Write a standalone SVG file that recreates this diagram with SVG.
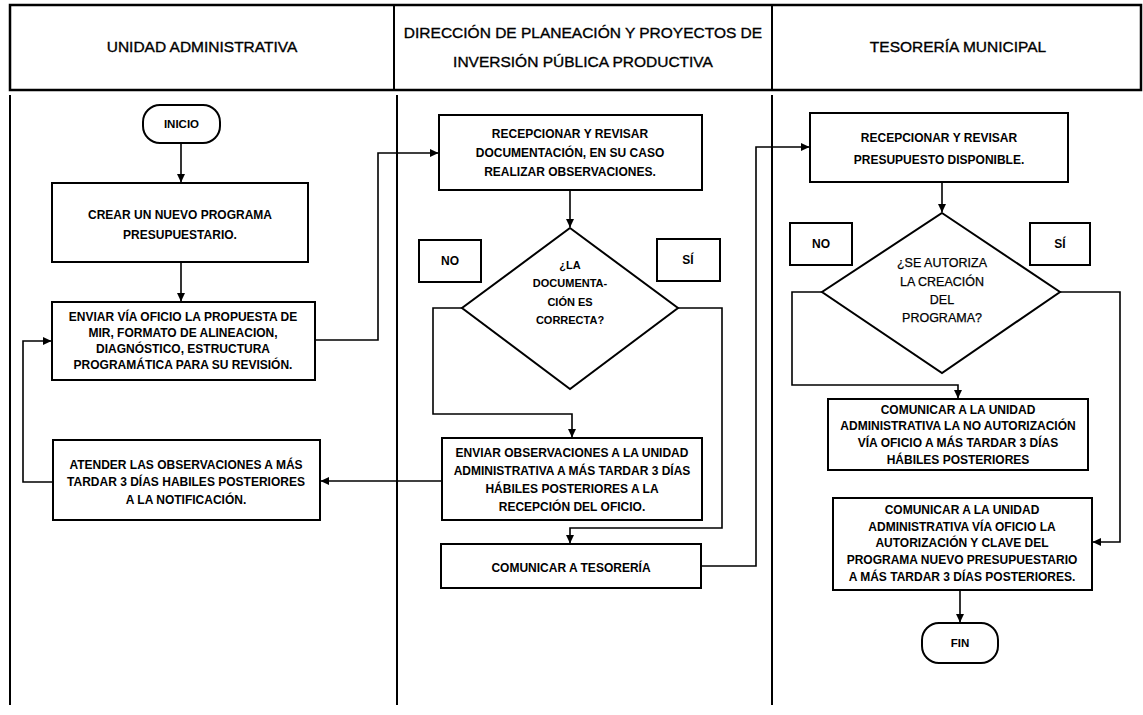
<svg xmlns="http://www.w3.org/2000/svg" width="1143" height="715" viewBox="0 0 1143 715">
<defs>
<marker id="arr" markerWidth="9" markerHeight="9" refX="8" refY="4.5" orient="auto" markerUnits="userSpaceOnUse">
<path d="M0,0.5 L8.5,4.5 L0,8.5 z" fill="#000"/>
</marker>
<style>
.frame{fill:none;stroke:#000;stroke-width:2}
.hdr{font-family:"Liberation Sans",Arial,sans-serif;font-size:15.5px;fill:#000;stroke:#000;stroke-width:0.35;text-anchor:middle}
.box{fill:#fff;stroke:#000;stroke-width:2}
.t{font-family:"Liberation Sans",Arial,sans-serif;font-size:12px;font-weight:bold;fill:#000;text-anchor:middle}
.td{font-family:"Liberation Sans",Arial,sans-serif;font-size:11px;font-weight:bold;fill:#000;text-anchor:middle}
.td2{font-family:"Liberation Sans",Arial,sans-serif;font-size:12.5px;fill:#000;stroke:#000;stroke-width:0.25;text-anchor:middle}
.c{fill:none;stroke:#000;stroke-width:1.6;marker-end:url(#arr)}
</style>
</defs>
<rect width="1143" height="715" fill="#fff"/>
<g id="lanes">
<rect class="frame" x="10" y="5" width="1131" height="85" style="stroke-width:2.5"/>
<line class="frame" x1="394" y1="5" x2="394" y2="90"/>
<line class="frame" x1="772" y1="5" x2="772" y2="90"/>
<line class="frame" x1="10" y1="95" x2="10" y2="705"/>
<line class="frame" x1="397" y1="95" x2="397" y2="705"/>
<line class="frame" x1="772" y1="95" x2="772" y2="705"/>
<text class="hdr" x="202" y="52">UNIDAD ADMINISTRATIVA</text>
<text class="hdr" x="583" y="38">DIRECCIÓN DE PLANEACIÓN Y PROYECTOS DE</text>
<text class="hdr" x="583" y="67">INVERSIÓN PÚBLICA PRODUCTIVA</text>
<text class="hdr" x="958" y="52">TESORERÍA MUNICIPAL</text>
</g>
<g id="connectors">
<path class="c" d="M181,143 V182"/>
<path class="c" d="M181,262 V301"/>
<path class="c" d="M315,340 H378 V153 H438"/>
<path class="c" d="M570,190 V227"/>
<path class="c" d="M462,308 H433 V414 H572 V437"/>
<path class="c" d="M678,308 H722 V528 H570 V543"/>
<path class="c" d="M442,481 H321"/>
<path class="c" d="M53,482 H23 V341 H51"/>
<path class="c" d="M701,566 H756 V147 H809"/>
<path class="c" d="M942,182 V212"/>
<path class="c" d="M822,292 H792 V385 H958 V398"/>
<path class="c" d="M1060,292 H1120 V542 H1093"/>
<path class="c" d="M960,590 V622"/>
</g>
<g id="inicio">
<rect class="box" x="143" y="105" width="77" height="38" rx="17"/>
<text class="t" x="181.5" y="128" style="font-size:11.5px">INICIO</text>
</g>
<g id="crear">
<rect class="box" x="52" y="183" width="256" height="79"/>
<text class="t" x="180" y="219">CREAR UN NUEVO PROGRAMA</text>
<text class="t" x="180" y="239">PRESUPUESTARIO.</text>
</g>
<g id="enviar">
<rect class="box" x="52" y="302" width="263" height="78"/>
<text class="t" x="183" y="321">ENVIAR VÍA OFICIO LA PROPUESTA DE</text>
<text class="t" x="183" y="337">MIR, FORMATO DE ALINEACION,</text>
<text class="t" x="183" y="353">DIAGNÓSTICO, ESTRUCTURA</text>
<text class="t" x="183" y="369">PROGRAMÁTICA PARA SU REVISIÓN.</text>
</g>
<g id="atender">
<rect class="box" x="53" y="440" width="267" height="80"/>
<text class="t" x="186" y="469">ATENDER LAS OBSERVACIONES A MÁS</text>
<text class="t" x="186" y="486">TARDAR 3 DÍAS HABILES POSTERIORES</text>
<text class="t" x="186" y="504">A LA NOTIFICACIÓN.</text>
</g>
<g id="recepcionar-doc">
<rect class="box" x="439" y="115" width="263" height="75"/>
<text class="t" x="570" y="138">RECEPCIONAR Y REVISAR</text>
<text class="t" x="570" y="157">DOCUMENTACIÓN, EN SU CASO</text>
<text class="t" x="570" y="176">REALIZAR OBSERVACIONES.</text>
</g>
<g id="decision-doc">
<polygon class="box" points="570,228 678,308 570,389 462,308"/>
<text class="td" x="570" y="269">¿LA</text>
<text class="td" x="570" y="287">DOCUMENTA-</text>
<text class="td" x="570" y="306">CIÓN ES</text>
<text class="td" x="570" y="324">CORRECTA?</text>
</g>
<g id="no-doc">
<rect class="box" x="419" y="240" width="62" height="42"/>
<text class="t" x="450" y="265">NO</text>
</g>
<g id="si-doc">
<rect class="box" x="657" y="239" width="63" height="42"/>
<text class="t" x="688" y="264">SÍ</text>
</g>
<g id="enviar-obs">
<rect class="box" x="442" y="438" width="260" height="82"/>
<text class="t" x="572" y="457">ENVIAR OBSERVACIONES A LA UNIDAD</text>
<text class="t" x="572" y="475">ADMINISTRATIVA A MÁS TARDAR 3 DÍAS</text>
<text class="t" x="572" y="493">HÁBILES POSTERIORES A LA</text>
<text class="t" x="572" y="511">RECEPCIÓN DEL OFICIO.</text>
</g>
<g id="comunicar-tes">
<rect class="box" x="441" y="544" width="260" height="44"/>
<text class="t" x="571" y="572">COMUNICAR A TESORERÍA</text>
</g>
<g id="recepcionar-pres">
<rect class="box" x="810" y="113" width="258" height="69"/>
<text class="t" x="939" y="142">RECEPCIONAR Y REVISAR</text>
<text class="t" x="939" y="164">PRESUPUESTO DISPONIBLE.</text>
</g>
<g id="decision-aut">
<polygon class="box" points="942,213 1060,292 942,373 822,292"/>
<text class="td2" x="942" y="267">¿SE AUTORIZA</text>
<text class="td2" x="942" y="286">LA CREACIÓN</text>
<text class="td2" x="942" y="304">DEL</text>
<text class="td2" x="942" y="322">PROGRAMA?</text>
</g>
<g id="no-aut">
<rect class="box" x="790" y="223" width="62" height="42"/>
<text class="t" x="821" y="248">NO</text>
</g>
<g id="si-aut">
<rect class="box" x="1030" y="223" width="60" height="42"/>
<text class="t" x="1060" y="248">SÍ</text>
</g>
<g id="no-autorizacion">
<rect class="box" x="828" y="399" width="260" height="71"/>
<text class="t" x="958" y="414">COMUNICAR A LA UNIDAD</text>
<text class="t" x="958" y="430">ADMINISTRATIVA LA NO AUTORIZACIÓN</text>
<text class="t" x="958" y="447">VÍA OFICIO A MÁS TARDAR 3 DÍAS</text>
<text class="t" x="958" y="464">HÁBILES POSTERIORES</text>
</g>
<g id="autorizacion">
<rect class="box" x="833" y="498" width="259" height="92"/>
<text class="t" x="962" y="514">COMUNICAR A LA UNIDAD</text>
<text class="t" x="962" y="531">ADMINISTRATIVA VÍA OFICIO LA</text>
<text class="t" x="962" y="547">AUTORIZACIÓN Y CLAVE DEL</text>
<text class="t" x="962" y="564">PROGRAMA NUEVO PRESUPUESTARIO</text>
<text class="t" x="962" y="581">A MÁS TARDAR 3 DÍAS POSTERIORES.</text>
</g>
<g id="fin">
<rect class="box" x="922" y="623" width="76" height="40" rx="17"/>
<text class="t" x="960" y="647" style="font-size:11.5px">FIN</text>
</g>
</svg>
